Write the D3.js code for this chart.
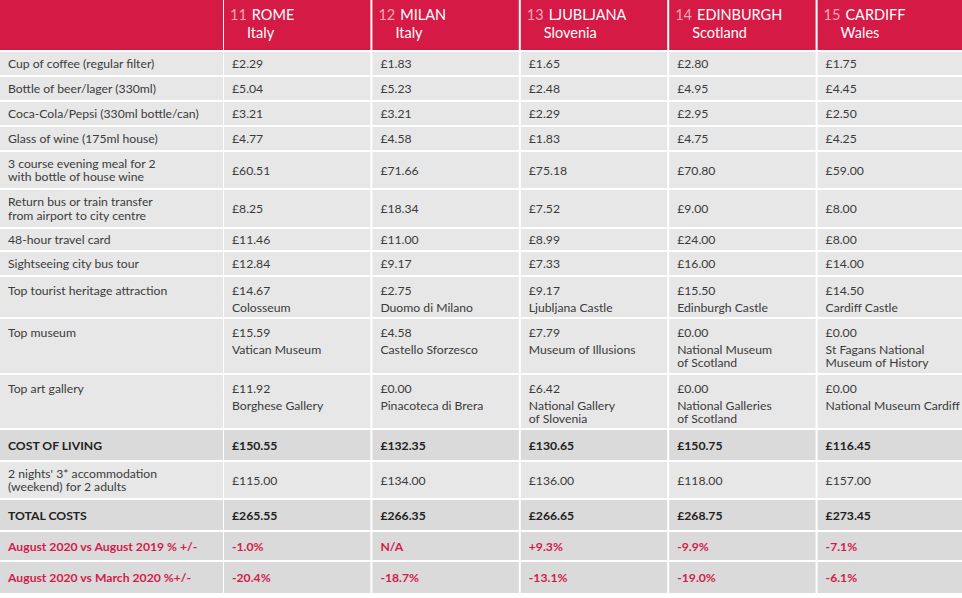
<!DOCTYPE html>
<html>
<head>
<meta charset="utf-8">
<script src="https://cdn.jsdelivr.net/npm/d3@7"></script>
<style>
  body { margin: 0; background: #fff; }
  svg text { font-family: Lato, "Open Sans", sans-serif; }
</style>
</head>
<body>
<svg id="table" width="962" height="598"></svg>
<script>
// Header data
const ranks = ["11", "12", "13", "14", "15"];
const cities = ["ROME", "MILAN", "LJUBLJANA", "EDINBURGH", "CARDIFF"];
const countries = ["Italy", "Italy", "Slovenia", "Scotland", "Wales"];

// Prices per city (same order as cities)
const coffee = ["£2.29", "£1.83", "£1.65", "£2.80", "£1.75"];
const beer = ["£5.04", "£5.23", "£2.48", "£4.95", "£4.45"];
const cola = ["£3.21", "£3.21", "£2.29", "£2.95", "£2.50"];
const wine = ["£4.77", "£4.58", "£1.83", "£4.75", "£4.25"];
const meal = ["£60.51", "£71.66", "£75.18", "£70.80", "£59.00"];
const transfer = ["£8.25", "£18.34", "£7.52", "£9.00", "£8.00"];
const travelCard = ["£11.46", "£11.00", "£8.99", "£24.00", "£8.00"];
const busTour = ["£12.84", "£9.17", "£7.33", "£16.00", "£14.00"];
const attraction = ["£14.67", "£2.75", "£9.17", "£15.50", "£14.50"];
const attractionNames = [["Colosseum"], ["Duomo di Milano"], ["Ljubljana Castle"], ["Edinburgh Castle"], ["Cardiff Castle"]];
const museum = ["£15.59", "£4.58", "£7.79", "£0.00", "£0.00"];
const museumNames = [["Vatican Museum"], ["Castello Sforzesco"], ["Museum of Illusions"], ["National Museum", "of Scotland"], ["St Fagans National", "Museum of History"]];
const gallery = ["£11.92", "£0.00", "£6.42", "£0.00", "£0.00"];
const galleryNames = [["Borghese Gallery"], ["Pinacoteca di Brera"], ["National Gallery", "of Slovenia"], ["National Galleries", "of Scotland"], ["National Museum Cardiff"]];
const costOfLiving = ["£150.55", "£132.35", "£130.65", "£150.75", "£116.45"];
const accommodation = ["£115.00", "£134.00", "£136.00", "£118.00", "£157.00"];
const totalCosts = ["£265.55", "£266.35", "£266.65", "£268.75", "£273.45"];
const vsAug2019 = ["-1.0%", "N/A", "+9.3%", "-9.9%", "-7.1%"];
const vsMar2020 = ["-20.4%", "-18.7%", "-13.1%", "-19.0%", "-6.1%"];

// Table rows built from the arrays above
const rows = [
  { label: ["Cup of coffee (regular filter)"], values: coffee },
  { label: ["Bottle of beer/lager (330ml)"], values: beer },
  { label: ["Coca-Cola/Pepsi (330ml bottle/can)"], values: cola },
  { label: ["Glass of wine (175ml house)"], values: wine },
  { label: ["3 course evening meal for 2", "with bottle of house wine"], values: meal },
  { label: ["Return bus or train transfer", "from airport to city centre"], values: transfer },
  { label: ["48-hour travel card"], values: travelCard },
  { label: ["Sightseeing city bus tour"], values: busTour },
  { label: ["Top tourist heritage attraction"], values: attraction, names: attractionNames },
  { label: ["Top museum"], values: museum, names: museumNames },
  { label: ["Top art gallery"], values: gallery, names: galleryNames },
  { label: ["COST OF LIVING"], values: costOfLiving, kind: "total" },
  { label: ["2 nights' 3* accommodation", "(weekend) for 2 adults"], values: accommodation },
  { label: ["TOTAL COSTS"], values: totalCosts, kind: "total" },
  { label: ["August 2020 vs August 2019 % +/-"], values: vsAug2019, kind: "change" },
  { label: ["August 2020 vs March 2020 %+/-"], values: vsMar2020, kind: "change" }
];

// Layout
const headerHeight = 50;
const rowHeights = [25, 25, 25, 25, 38, 39, 23, 25, 42, 56, 55, 32, 38, 32, 30, 33];
const gap = 2;
const labelWidth = 223;
const red = "#d51a45";
const textColor = "#3b3b3b";
const fontSize = 12.2;
const lineGap = 13.5;

const rowTops = [headerHeight, ...d3.cumsum(rowHeights).map((d) => d + headerHeight)];

const x = d3
  .scaleBand()
  .domain(cities)
  .range([labelWidth + 1, 962 + gap])
  .paddingInner(gap / 148)
  .paddingOuter(0);

const svg = d3.select("#table");

// Header row
svg.append("rect").attr("x", 0).attr("y", 0).attr("width", labelWidth).attr("height", headerHeight).attr("fill", red);

const head = svg
  .selectAll("g.head")
  .data(cities)
  .enter()
  .append("g")
  .attr("class", "head")
  .attr("transform", (d) => `translate(${x(d)},0)`);

head.append("rect").attr("width", x.bandwidth()).attr("height", headerHeight).attr("fill", red);

const headTitle = head.append("text").attr("x", 6).attr("y", 14).attr("dominant-baseline", "central").attr("font-size", 14.5);
headTitle.append("tspan").attr("fill", "#f7a7b8").text((d, i) => ranks[i]);
headTitle.append("tspan").attr("fill", "#fff").attr("dx", 5).text((d) => d);

head
  .append("text")
  .attr("x", 23)
  .attr("y", 32)
  .attr("dominant-baseline", "central")
  .attr("font-size", 14.5)
  .attr("fill", "#fff")
  .text((d, i) => countries[i]);

// Body rows
const rowFill = (r) => (r.kind ? "#dadada" : "#e7e7e7");
const rowText = (r) => (r.kind === "change" ? "#d31c4b" : r.kind === "total" ? "#222" : textColor);

const body = svg
  .selectAll("g.row")
  .data(rows)
  .enter()
  .append("g")
  .attr("class", "row")
  .attr("transform", (d, i) => `translate(0,${rowTops[i] + gap})`);

body.each(function (r, i) {
  const g = d3.select(this);
  const h = rowHeights[i] - gap;
  const bold = r.kind ? "bold" : "normal";

  g.append("rect").attr("width", labelWidth).attr("height", h).attr("fill", rowFill(r));

  // Rows with a named venue keep text to the top, others centre it
  const firstY = r.names ? 13 : h / 2 - ((r.label.length - 1) * lineGap) / 2;

  g.append("text")
    .attr("font-size", fontSize)
    .attr("font-weight", bold)
    .attr("fill", rowText(r))
    .selectAll("tspan")
    .data(r.label)
    .enter()
    .append("tspan")
    .attr("x", 8)
    .attr("y", (d, k) => firstY + k * lineGap)
    .attr("dominant-baseline", "central")
    .text((d) => d);

  const cells = g
    .selectAll("g.cell")
    .data(cities)
    .enter()
    .append("g")
    .attr("class", "cell")
    .attr("transform", (d) => `translate(${x(d)},0)`);

  cells.append("rect").attr("width", x.bandwidth()).attr("height", h).attr("fill", rowFill(r));

  cells
    .append("text")
    .attr("x", 8)
    .attr("y", r.names ? 13 : h / 2)
    .attr("dominant-baseline", "central")
    .attr("font-size", fontSize)
    .attr("font-weight", bold)
    .attr("fill", rowText(r))
    .text((d, k) => r.values[k]);

  if (r.names) {
    cells
      .append("text")
      .attr("font-size", fontSize)
      .attr("fill", textColor)
      .selectAll("tspan")
      .data((d, k) => r.names[k])
      .enter()
      .append("tspan")
      .attr("x", 8)
      .attr("y", (d, k) => 30 + k * lineGap)
      .attr("dominant-baseline", "central")
      .text((d) => d);
  }
});
</script>
</body>
</html>
